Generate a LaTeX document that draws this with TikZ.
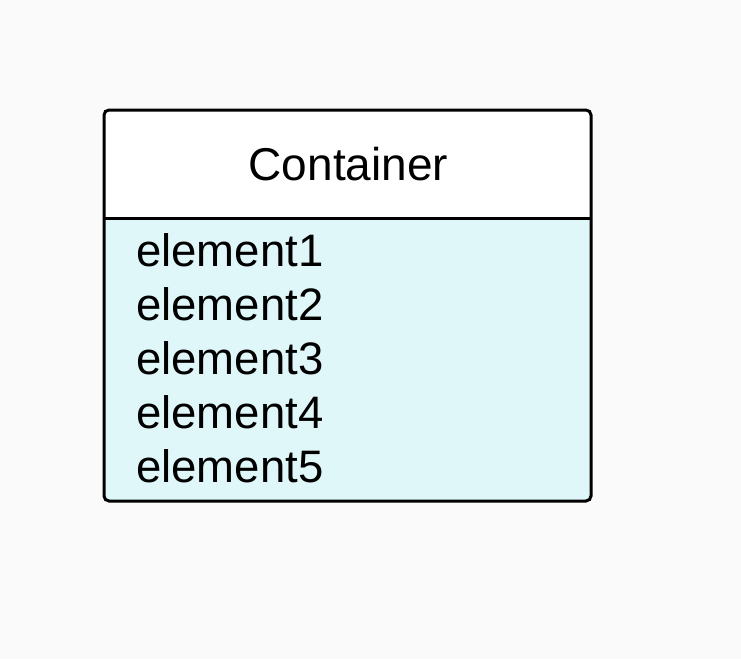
\documentclass[tikz,border=0pt]{standalone}
\usepackage{fontspec}
\setmainfont{Liberation Sans}
\definecolor{bgc}{HTML}{FAFAFA}
\definecolor{bodyc}{HTML}{E0F7FA}
\begin{document}
\begin{tikzpicture}[x=1pt,y=-1pt,
  lbl/.style={inner sep=0pt, font=\fontsize{45.5}{52}\selectfont, text=black},
  frame/.style={draw=black, line width=3pt, rounded corners=5pt}]
\fill[bgc] (0,0) rectangle (741,659);
\useasboundingbox (0,0) rectangle (741,659);
\begin{scope}
  \clip[rounded corners=5pt] (104,110) rectangle (591,501);
  \fill[white] (104,110) rectangle (591,218);
  \fill[bodyc] (104,218) rectangle (591,501);
\end{scope}
\draw[frame] (104,110) rectangle (591,501);
\coordinate (dl) at (104,218);
\coordinate (dr) at (591,218);
\draw[line width=3pt] (dl) -- (dr);
\node[lbl, anchor=base, font=\fontsize{46}{52}\selectfont] (title) at (348.5,180) {Container};
\node[lbl, anchor=base west] (e1) at (136,266) {element1};
\node[lbl, anchor=base west] (e2) at (136,320) {element2};
\node[lbl, anchor=base west] (e3) at (136,374) {element3};
\node[lbl, anchor=base west] (e4) at (136,428) {element4};
\node[lbl, anchor=base west] (e5) at (136,482) {element5};
\end{tikzpicture}
\end{document}
